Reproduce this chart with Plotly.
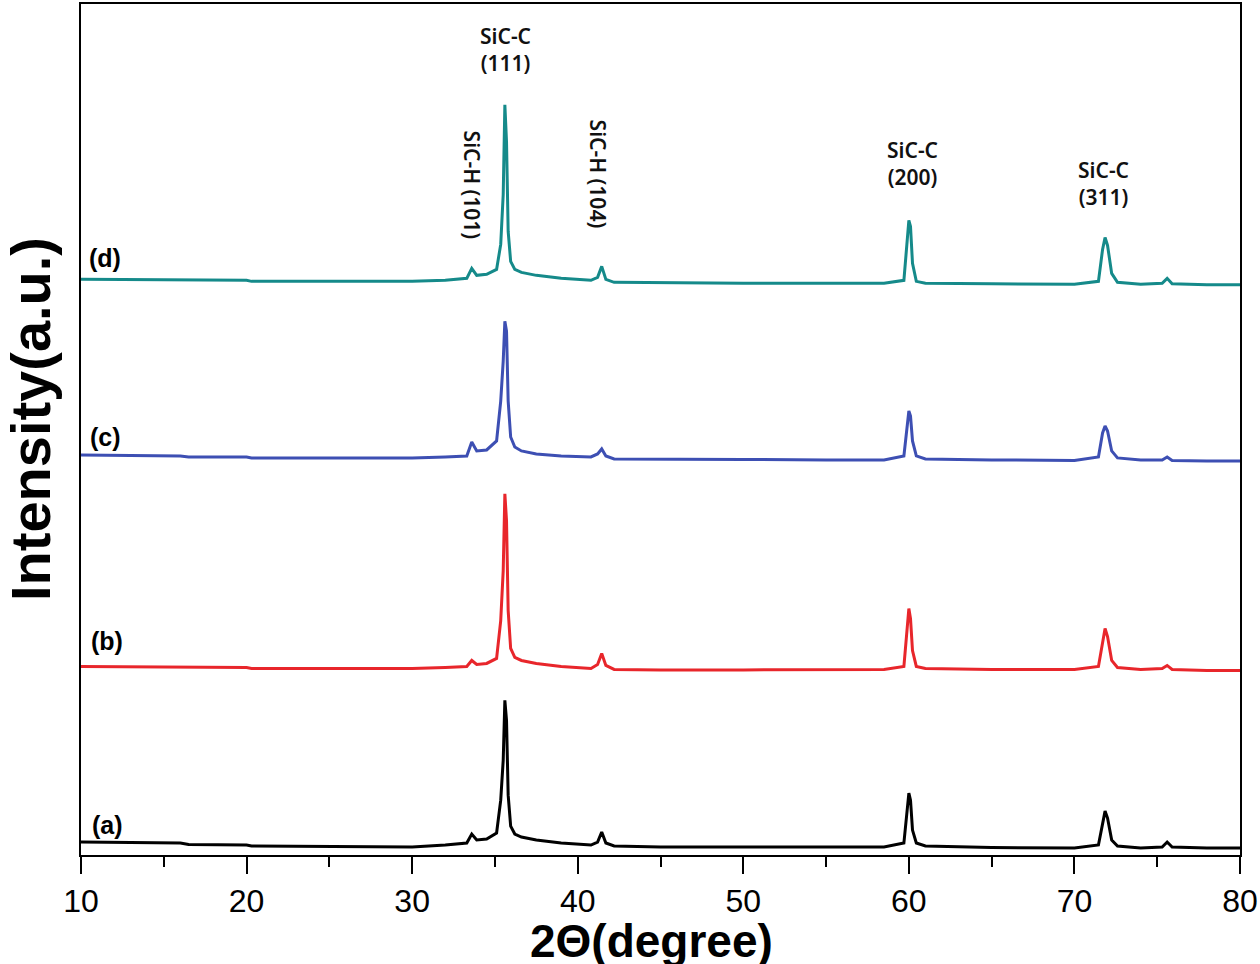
import plotly.graph_objects as go

# 2-theta sample points (degrees)
two_theta = [10, 16, 16.5, 20, 20.3, 30, 32, 33.3, 33.6, 33.9, 34.5, 35.1, 35.35, 35.5,
             35.6, 35.7, 35.8, 35.95, 36.2, 36.6, 37.5, 39, 40.8, 41.2, 41.45, 41.7,
             42.2, 45, 50, 55, 58.5, 59.7, 59.88, 60.0, 60.1, 60.22, 60.45, 61, 65, 70,
             71.45, 71.7, 71.85, 72.0, 72.25, 72.6, 74, 75.3, 75.6, 75.9, 78, 80]

# stacked intensities (a.u.) for the four samples
int_a = [13, 12, 10.5, 10, 9, 8, 10, 12, 21, 15, 16, 22, 55, 95,
         155, 135, 60, 29, 21, 18, 15, 12, 10, 13, 23, 12,
         9, 8, 8, 8, 8, 12, 40, 62, 55, 25, 12, 9, 7.5, 7,
         10, 33, 44, 37, 15, 9, 7, 8, 13, 8, 7, 7]
int_b = [189, 188.5, 188, 188, 187, 187, 188, 189, 195, 191, 192, 197, 235, 285,
         362, 335, 245, 207, 198, 195, 192, 189, 187, 191, 202, 190,
         186, 185.5, 185.5, 185.5, 186, 189, 220, 247, 237, 205, 189, 187, 186, 186,
         189, 215, 227, 219, 195, 188, 186, 187, 190, 186, 185, 185]
int_c = [401, 400, 399, 399, 398, 398, 399, 400, 414, 405, 406, 415, 455, 495,
         535, 525, 455, 419, 409, 405, 402, 400, 399, 402, 407, 400,
         397, 397, 396.5, 396, 396, 400, 430, 445, 440, 415, 400, 397, 396, 395.5,
         399, 423, 430, 425, 405, 398, 396, 396, 399, 395.5, 395, 395]
int_d = [577, 576.5, 576, 576, 575, 575, 576, 578, 588, 581, 582, 587, 612, 662,
         752, 715, 625, 595, 587, 584, 581, 578, 576, 579, 590, 577,
         574, 573.5, 573, 573, 573, 576, 615, 636, 630, 593, 575, 573, 572.5, 572,
         575, 607, 619, 611, 583, 574, 572, 573, 578, 572.5, 571.5, 571.5]

series = [("(a)", int_a, "#000000"), ("(b)", int_b, "#e8262b"),
          ("(c)", int_c, "#3d4fb3"), ("(d)", int_d, "#158a8a")]

x_ticks = [10, 20, 30, 40, 50, 60, 70, 80]

# plot box in pixels
L, R, T, B = 81, 1240, 2, 855
W, H = 1260, 964


def px(xp):
    return (xp - L) / (R - L)


def py(yp):
    return (B - yp) / (B - T)


fig = go.Figure()
for name, vals, col in series:
    fig.add_trace(go.Scatter(x=two_theta, y=vals, mode="lines", name=name,
                             line=dict(color=col, width=3), showlegend=False))

label_font = dict(family="Noto Sans", size=21, color="#111111", weight=600)
ann = []
# sample labels
for txt, xp, yp in [("(a)", 107, 825), ("(b)", 107, 640), ("(c)", 105, 436), ("(d)", 105, 257)]:
    ann.append(dict(text=txt, xref="paper", yref="paper", x=px(xp), y=py(yp),
                    showarrow=False, xanchor="center", yanchor="middle",
                    font=dict(family="Liberation Sans", size=25, color="#000", weight="bold")))
# peak labels
for txt, xp, yp, ang in [("SiC-C<br>(111)", 505, 48, 0), ("SiC-H (101)", 472, 183, 90),
                         ("SiC-H (104)", 598, 172, 90), ("SiC-C<br>(200)", 912, 162, 0),
                         ("SiC-C<br>(311)", 1103, 182, 0)]:
    ann.append(dict(text=txt, xref="paper", yref="paper", x=px(xp), y=py(yp),
                    showarrow=False, xanchor="center", yanchor="middle", textangle=ang,
                    font=label_font))
# axis titles
ann.append(dict(text="Intensity(a.u.)", xref="paper", yref="paper", x=px(30), y=py(418),
                showarrow=False, xanchor="center", yanchor="middle", textangle=-90,
                font=dict(family="Liberation Sans", size=56, color="#000", weight="bold")))
ann.append(dict(text="2Θ(degree)", xref="paper", yref="paper", x=px(651), y=py(941),
                showarrow=False, xanchor="center", yanchor="middle",
                font=dict(family="Liberation Sans", size=46, color="#000", weight="bold")))

fig.update_layout(
    width=W, height=H,
    margin=dict(l=L, r=W - R, t=T, b=H - B, pad=0),
    paper_bgcolor="white", plot_bgcolor="white",
    annotations=ann,
    xaxis=dict(range=[10, 80], tickvals=x_ticks, ticks="outside", ticklen=17, tickwidth=2,
               tickcolor="#000", showline=True, linecolor="#000", linewidth=2, mirror=True,
               showgrid=False, zeroline=False,
               tickfont=dict(family="Liberation Sans", size=32, color="#000"),
               minor=dict(dtick=5, tick0=10, ticks="outside", ticklen=10, tickwidth=2,
                          tickcolor="#000", showgrid=False)),
    yaxis=dict(range=[0, 853], showticklabels=False, ticks="", showline=True,
               linecolor="#000", linewidth=2, mirror=True, showgrid=False, zeroline=False),
)

fig.write_html("out.html", config={"displayModeBar": False},
               post_script="document.body.style.margin='0';document.body.style.overflow='hidden';")
